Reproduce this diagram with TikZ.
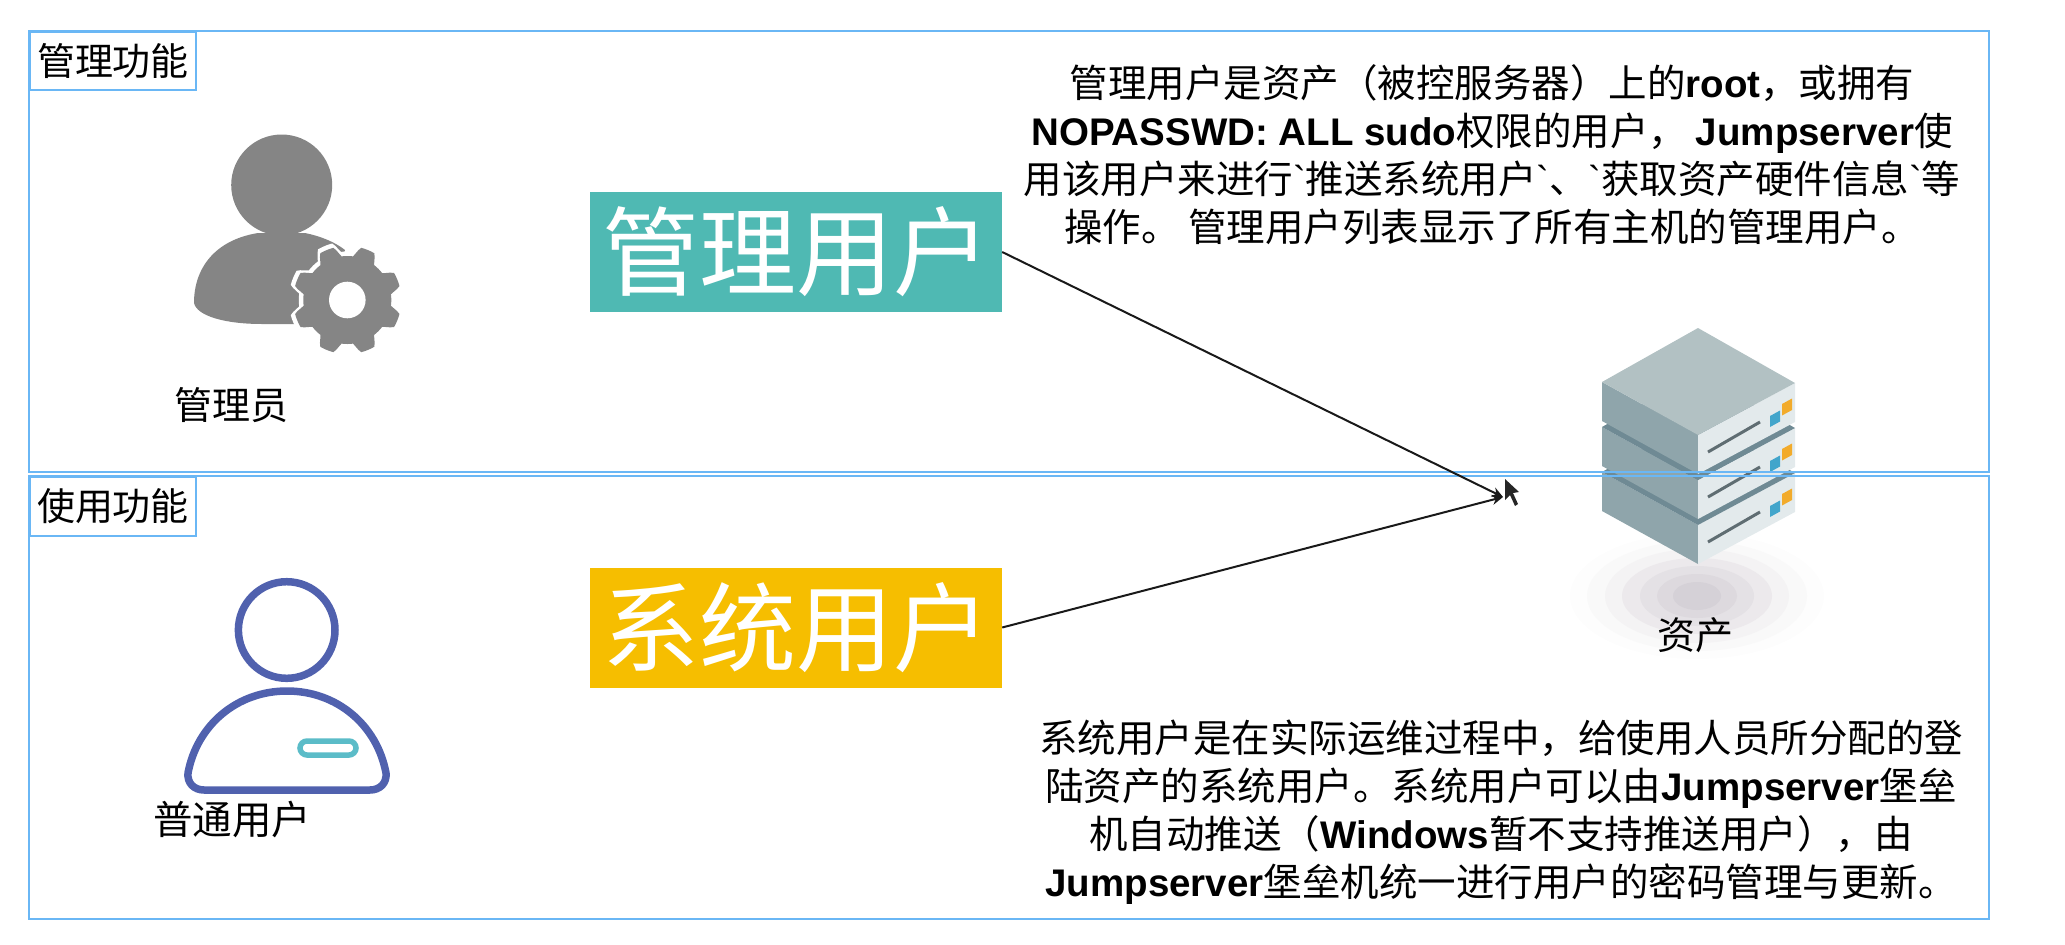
\documentclass[tikz,border=0pt]{standalone}
\usepackage{fontspec}
\usetikzlibrary{arrows.meta}
\setmainfont{Noto Sans CJK SC}
\setmonofont{Liberation Sans}
\newfontfamily\lat{Liberation Sans}
\newcommand{\LB}[1]{{\lat\bfseries #1}}
\newcommand{\BT}{{\ttfamily `}}
\definecolor{frameblue}{HTML}{6AB7F5}
\definecolor{teal1}{HTML}{4FB9B3}
\definecolor{gold1}{HTML}{F6BE00}
\definecolor{gearg}{HTML}{858585}
\definecolor{indigo1}{HTML}{5061AE}
\definecolor{aqua1}{HTML}{5BBCC8}
\definecolor{srvtop}{HTML}{B2C1C3}
\definecolor{srvleft}{HTML}{8FA5AB}
\definecolor{srvright}{HTML}{E3EAEC}
\definecolor{srvgap}{HTML}{6F8A94}
\definecolor{srvslot}{HTML}{5F6D72}
\definecolor{srvblue}{HTML}{42A5CB}
\definecolor{srvorange}{HTML}{F2AB2B}
\tikzset{
  framebox/.style={draw=frameblue,line width=2.4pt},
  tagbox/.style={draw=frameblue,line width=2pt,fill=white,inner sep=0pt,anchor=north west,font=\fontsize{38}{40}\selectfont},
  rolebox/.style={inner sep=0pt,minimum width=412,minimum height=120,text=white,font=\fontsize{97}{100}\selectfont},
  bodytext/.style={align=center,inner sep=0pt,font=\fontsize{38.5}{48}\selectfont},
  captext/.style={inner sep=0pt,font=\fontsize{38}{40}\selectfont},
  linkline/.style={draw=black!90,line width=2pt,-{Stealth[length=11pt,width=10pt]}}
}
\begin{document}
\begin{tikzpicture}[x=1pt,y=-1pt]
\useasboundingbox (0,0) rectangle (2065,945);
% asset shadow
\foreach \rx/\ry/\c in {127/63/FDFDFD,110/55/F9F9F9,92/47/F4F3F4,75/38/ECE9EC,57/30/E4E1E5,40/22/DDD9DE,24/14/D5D1D7}{
  \definecolor{shc}{HTML}{\c}
  \fill[shc] (1697,596) ellipse ({\rx} and {\ry});
}
% server
\foreach \dy in {90,45,0}{
\begin{scope}[shift={(0,\dy)}]
  \fill[srvleft] (1602,382) -- (1698,435) -- (1698,474) -- (1602,421) -- cycle;
  \fill[srvright] (1698,435) -- (1795,383) -- (1795,422) -- (1698,474) -- cycle;
  \ifnum\dy=0
    \fill[srvtop] (1602,382) -- (1698,328) -- (1795,383) -- (1698,435) -- cycle;
  \else
    \fill[srvgap] (1602,382) -- (1698,328) -- (1795,383) -- (1698,435) -- cycle;
  \fi
  \draw[srvslot,line width=3pt] (1708,452) -- (1760,422);
  \fill[srvblue] (1770,416) -- (1780,410.5) -- (1780,421.5) -- (1770,427) -- cycle;
  \fill[srvorange] (1782,404) -- (1792,398.5) -- (1792,410) -- (1782,415.5) -- cycle;
\end{scope}
}
% frames
\draw[framebox] (29,31) rectangle (1989,472);
\draw[framebox] (29,476) rectangle (1989,919);
\node[tagbox,minimum width=166,minimum height=58] (tagA) at (29,31) {管理功能};
\node[tagbox,minimum width=166,minimum height=59] (tagB) at (29,476) {使用功能};
% admin icon
\fill[gearg] (258,233) .. controls (215,240) and (194,268) .. (194,303) .. controls (197,316) and (225,324) .. (262,324) -- (320,324) -- (345,250) .. controls (335,242) and (320,236) .. (305,233) -- cycle;
\fill[gearg] (281.7,185) circle (50.5);
\fill[white] plot[domain=0:357.5,samples=144,variable=\t] ({347.3+(4.5+min(54,max(44,49-11*cos(8*\t))))*cos(\t)},{300+(4.5+min(54,max(44,49-11*cos(8*\t))))*sin(\t)}) -- cycle;
\fill[gearg] plot[domain=0:357.5,samples=144,variable=\t] ({347.3+min(54,max(44,49-11*cos(8*\t)))*cos(\t)},{300+min(54,max(44,49-11*cos(8*\t)))*sin(\t)}) -- cycle;
\fill[white] (347.3,300) circle (18.3);
\node[captext] (admin) at (231,405) {管理员};
% user icon
\draw[indigo1,line width=7.5pt] (286.7,630) circle (48.3);
\draw[indigo1,line width=7.5pt,line join=round] (188,773) .. controls (197,725) and (237,691) .. (287,691) .. controls (337,691) and (377,725) .. (386,773) .. controls (387,783) and (380,790) .. (370,790) -- (204,790) .. controls (194,790) and (187,783) .. (188,773) -- cycle;
\draw[aqua1,line width=5.5pt,rounded corners=7pt] (300,741) rectangle (356,755);
\node[captext,font=\fontsize{39.5}{42}\selectfont] (user) at (232,820) {普通用户};
% role boxes
\node[rolebox,fill=teal1] (adminrole) at (796,252) {管理用户};
\node[rolebox,fill=gold1] (sysrole) at (796,627.5) {系统用户};
\coordinate (tip) at (1503,497);
\draw[linkline] (adminrole.east) -- (tip);
\draw[linkline] (sysrole.east) -- (tip);
% cursor
\fill[black!85] (1505,479) -- (1505,500) -- (1510,495) -- (1515,506) -- (1518,504) -- (1513,493) -- (1519,492) -- cycle;
% texts
\node[bodytext] (admintext) at (1492,155) {管理用户是资产（被控服务器）上的\LB{root}，或拥有\\\LB{NOPASSWD: ALL sudo}权限的用户， \LB{Jumpserver}使\\用该用户来进行\BT 推送系统用户\BT 、\BT 获取资产硬件信息\BT 等\\操作。 管理用户列表显示了所有主机的管理用户。};
\node[bodytext] (systext) at (1501,812) {系统用户是在实际运维过程中，给使用人员所分配的登\\陆资产的系统用户。系统用户可以由\LB{Jumpserver}堡垒\\机自动推送（\LB{Windows}暂不支持推送用户），由\\\LB{Jumpserver}堡垒机统一进行用户的密码管理与更新。};
\node[captext] (asset) at (1695,635) {资产};
\end{tikzpicture}
\end{document}
